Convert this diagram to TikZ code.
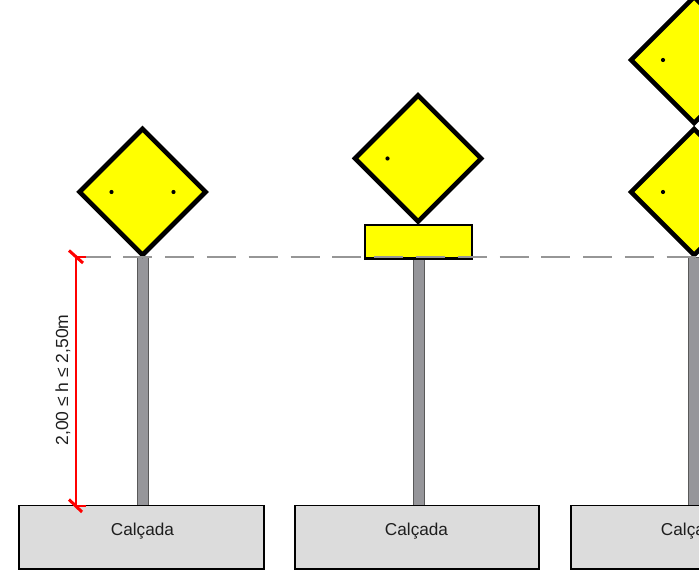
\documentclass[tikz,border=0pt]{standalone}
\usepackage{fontspec}
\setmainfont{Liberation Sans}
\definecolor{signy}{RGB}{255,255,0}
\definecolor{polegray}{RGB}{150,150,154}
\definecolor{walk}{RGB}{220,220,220}
\definecolor{dashgray}{RGB}{150,150,150}
\definecolor{txt}{RGB}{30,30,30}
\tikzset{
  sign/.style={draw=black,fill=signy,line width=4.6pt,line join=miter},
  plate/.style={draw=black,fill=signy,line width=2.6pt},
  pole/.style={draw=gray!70!black,fill=polegray,line width=0.8pt},
  walkway/.style={draw=black,fill=walk,line width=1.8pt},
  bolt/.style={fill=black},
  dim/.style={draw=red,line width=1.6pt},
  tick/.style={draw=red,line width=3pt},
  guide/.style={draw=dashgray,line width=2.2pt,dash pattern=on 29pt off 12.8pt},
  lab/.style={text=txt,font=\fontsize{17.2}{20}\selectfont,inner sep=0pt},
  vlab/.style={text=txt,font=\fontsize{17.5}{20}\selectfont,inner sep=0pt,rotate=90}
}
\newcommand{\signdiamond}[2]{%
  \path[sign] (#1,#2-63) -- (#1+63,#2) -- (#1,#2+63) -- (#1-63,#2) -- cycle;}
\begin{document}
\begin{tikzpicture}[x=1pt,y=-1pt]
\useasboundingbox (0,0) rectangle (699,585);
\clip (0,0) rectangle (699,585);
% poles
\path[pole] (137,257) rectangle (148,506);
\path[pole] (413,257) rectangle (424,506);
\path[pole] (688,257) rectangle (699,506);
% walkways
\path[walkway] (19,505.5) rectangle (264,569);
\path[walkway] (295,505.5) rectangle (539,569);
\path[walkway] (571,505.5) rectangle (815,569);
\node[lab] (c1) at (142.5,531) {Calçada};
\node[lab] (c2) at (416.5,531) {Calçada};
\node[lab] (c3) at (692.5,531) {Calçada};
% signs
\signdiamond{142.5}{192}
\signdiamond{418}{158.5}
\signdiamond{694}{192}
\signdiamond{694}{60}
\path[plate] (365,225) rectangle (472,258.6);
% bolts
\foreach \p in {(111.5,192),(173.5,192),(387.5,158.5),(663,192),(663,60)}
  \path[bolt] \p circle (2.1);
% guide line
\coordinate (g0) at (81.5,257);
\coordinate (g1) at (699,257);
\draw[guide] (g0) -- (g1);
% dimension
\coordinate (d0) at (76,257);
\coordinate (d1) at (76,506);
\draw[dim] (d0) -- (d1);
\draw[dim] (d0) -- ++(10,0);
\draw[dim] (d1) -- ++(10,0);
\draw[tick] (69,250.5) -- (83,263);
\draw[tick] (69,499.5) -- (82,512);
\node[vlab] (h) at (63,380) {2,00 ≤ h ≤ 2,50m};
\end{tikzpicture}
\end{document}
